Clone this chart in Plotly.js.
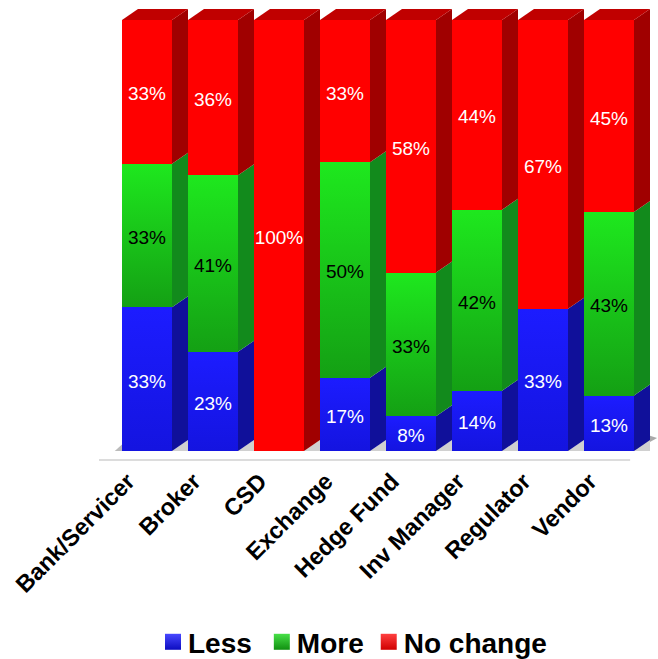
<!DOCTYPE html>
<html>
<head>
<meta charset="utf-8">
<script src="https://cdn.plot.ly/plotly-3.0.1.min.js"></script>
<style>html,body{margin:0;padding:0;background:#fff}#chart{width:658px;height:659px}</style>
</head>
<body>
<div id="chart"></div>
<script>
// Survey responses by firm type, shown as percentages
const categories = ['Bank/Servicer','Broker','CSD','Exchange','Hedge Fund','Inv Manager','Regulator','Vendor'];
const lessValues = [33,23,0,17,8,14,33,13];
const moreValues = [33,41,0,50,33,42,0,43];
const noChangeValues = [33,36,100,33,58,44,67,45];

const seriesNames = ['Less','More','No change'];
const seriesValues = [lessValues, moreValues, noChangeValues];
const textColors = ['#ffffff','#000000','#ffffff'];
const baseColors = ['#1a1af5','#18c818','#ff0000'];

// Extrusion of the bars, in axis units
const barGap = 16/66;
const halfWidth = (1 - barGap)/2;
const depthX = 16/66;
const depthY = 11/4.31;

const positions = categories.map((_, i) => i);
const polygon = pts => 'M' + pts.map(p => p[0] + ',' + p[1]).join('L') + 'Z';

// Side faces, top face and floor shadows are derived from the normalised stack
const shapes = [];
const shapeFills = [];
function addShape(pts, fill, gradient) {
  shapes.push({type:'path', xref:'x', yref:'y', layer:'below', path:polygon(pts),
               fillcolor:fill, line:{width:0}});
  shapeFills.push(gradient);
}
const right = positions.length - 1;
addShape([[-halfWidth-0.11,0],[-halfWidth,0],[-halfWidth,1.5]], '#bbbbbb', 'gShadowL');
addShape([[right+halfWidth,0],[right+halfWidth+0.35,3.0],[right+halfWidth+depthX,depthY+1]], '#aaaaaa', 'gShadowR');
positions.forEach(i => {
  const total = seriesValues.reduce((s, v) => s + v[i], 0);
  const xa = i + halfWidth, xb = xa + depthX;
  // Floor shadow showing in the gap next to each bar
  addShape([[xa,0],[xb,0],[xb,depthY]], '#d0d0d0', null);
  let base = 0;
  seriesValues.forEach((vals, k) => {
    const h = vals[i] / total * 100;
    if (h > 0) {
      addShape([[xa,base],[xb,base+depthY],[xb,base+h+depthY],[xa,base+h]],
               ['#10109a','#128a1c','#a00000'][k], ['gSideBlue','gSideGreen',null][k]);
    }
    base += h;
  });
  addShape([[i-halfWidth,100],[i-halfWidth+depthX,100+depthY],[xb,100+depthY],[xa,100]], '#c00000', 'gTop');
});
// Floor line under the bars
shapes.push({type:'line', xref:'x', yref:'y', layer:'below', x0:-0.727, x1:7.32, y0:-2.09, y1:-2.09,
             line:{color:'#dcdcdc', width:2}});
shapeFills.push(null);

const traces = seriesNames.map((name, k) => ({
  type:'bar', name, x:positions, y:seriesValues[k],
  text:seriesValues[k].map(v => v > 0 ? v + '%' : ''),
  textposition:'inside', insidetextanchor:'middle', textangle:0, constraintext:'none',
  textfont:{family:'Liberation Sans, Arial, sans-serif', size:19, color:textColors[k]},
  marker:{color:baseColors[k], line:{width:0}},
  hoverinfo:'skip'
}));

const layout = {
  width:658, height:659,
  margin:{l:66, r:0, t:2, b:197, autoexpand:false},
  paper_bgcolor:'#ffffff', plot_bgcolor:'#ffffff',
  barmode:'stack', barnorm:'percent', bargap:barGap,
  showlegend:true,
  legend:{orientation:'h', x:0.1385, y:-0.3915, xanchor:'left', yanchor:'middle', traceorder:'normal',
          bgcolor:'rgba(0,0,0,0)',
          font:{family:'Liberation Sans, Arial, sans-serif', size:28, color:'#000', weight:700},
          itemclick:false, itemdoubleclick:false},
  xaxis:{type:'linear', range:[-1.2273,7.7424], tickmode:'array', tickvals:positions, ticktext:categories,
         tickangle:-45, showgrid:false, zeroline:false, showline:false, ticks:'', ticklabelshift:-19,
         tickfont:{family:'Liberation Sans, Arial, sans-serif', size:23.5, color:'#000', weight:700}},
  yaxis:{range:[-2.552,104.18], visible:false, showgrid:false, zeroline:false},
  shapes
};

const gradients = {
  gFrontBlue:['#1c1cff','#1414e0',1],
  gFrontGreen:['#1ee81e','#14a014',1],
  gSideBlue:['#1010a8','#0c0c88',1],
  gSideGreen:['#14942a','#0c6a14',1],
  gShadowL:['#ffffff','#b8b8b8',1],
  gShadowR:['#a8a8a8','#f4f4f4',0],
  gTop:['#b00000','#e80000',0],
  gKeyBlue:['#4848ff','#0c0cc0',1],
  gKeyGreen:['#48e048','#109010',1],
  gKeyRed:['#ff4040','#d00000',1]
};

Plotly.newPlot('chart', traces, layout, {displayModeBar:false, staticPlot:true}).then(gd => {
  // Plotly bars only take flat colours, so shading is attached as SVG gradients
  const svg = gd.querySelector('svg.main-svg');
  const NS = 'http://www.w3.org/2000/svg';
  const defs = svg.querySelector('defs') || svg.insertBefore(document.createElementNS(NS,'defs'), svg.firstChild);
  Object.keys(gradients).forEach(id => {
    const [c0, c1, vertical] = gradients[id];
    const g = document.createElementNS(NS,'linearGradient');
    g.setAttribute('id', id);
    g.setAttribute('x1','0'); g.setAttribute('y1','0');
    g.setAttribute('x2', vertical ? '0' : '1'); g.setAttribute('y2', vertical ? '1' : '0');
    [[0,c0],[1,c1]].forEach(([o,c]) => {
      const s = document.createElementNS(NS,'stop');
      s.setAttribute('offset', o); s.setAttribute('stop-color', c);
      g.appendChild(s);
    });
    defs.appendChild(g);
  });
  gd.querySelectorAll('.barlayer .trace.bars').forEach((tr, k) => {
    const id = ['gFrontBlue','gFrontGreen',null][k];
    if (id) tr.querySelectorAll('.point path').forEach(p => p.style.setProperty('fill','url(#'+id+')'));
    // Nudge value labels slightly below the segment centre
    tr.querySelectorAll('text.bartext').forEach(t => {
      t.setAttribute('y', (parseFloat(t.getAttribute('y')) || 0) + 2);
    });
  });
  gd.querySelectorAll('.layer-below .shapelayer path').forEach(p => {
    const id = shapeFills[+p.getAttribute('data-index')];
    if (id) p.style.setProperty('fill','url(#'+id+')');
  });
  // Larger legend keys, sitting close to their labels
  const keyIds = ['gKeyBlue','gKeyGreen','gKeyRed'];
  gd.querySelectorAll('.legend .traces').forEach((t, k) => {
    t.querySelectorAll('.legendpoints path').forEach(p => {
      p.setAttribute('d','M13,8H-3V-8H13Z');
      p.style.setProperty('fill','url(#'+keyIds[k]+')');
    });
    if (k === 2) {
      const m = /translate\(\s*([-\d.]+)[ ,]+([-\d.]+)/.exec(t.getAttribute('transform') || '');
      if (m) t.setAttribute('transform', 'translate(' + (parseFloat(m[1]) - 5) + ',' + m[2] + ')');
    }
  });
});
</script>
</body>
</html>
